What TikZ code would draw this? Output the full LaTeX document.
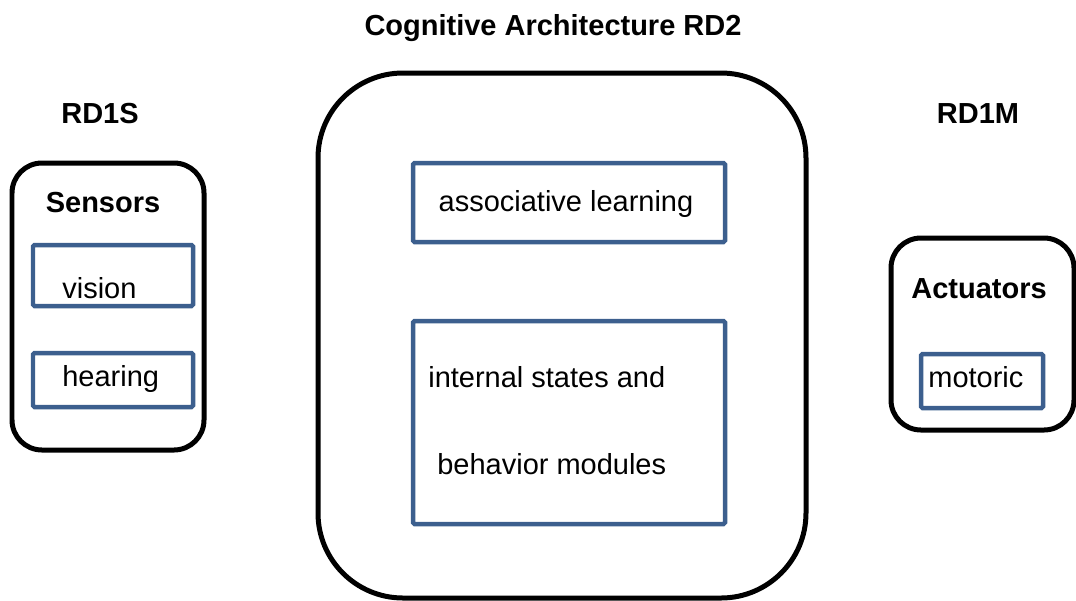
\documentclass[tikz,border=0pt]{standalone}
\usepackage{fontspec}
\setmainfont{Liberation Sans}
\usepackage{tikz}
\usetikzlibrary{positioning}

\definecolor{boxblue}{HTML}{3C5F8E}

\tikzset{
  outerbox/.style={draw=black, line width=0.1cm},
  innerbox/.style={draw=boxblue, line width=0.09cm, rounded corners=0.03cm},
  heading/.style={inner sep=0, font=\fontsize{16.5}{19}\selectfont\bfseries},
  label/.style={inner sep=0, font=\fontsize{16.5}{19}\selectfont}
}

\begin{document}
\begin{tikzpicture}[x=0.02cm, y=-0.02cm]
        \useasboundingbox (0,0) rectangle (1076,600);

        \draw[outerbox, rounded corners=0.6cm] (12,163)  rectangle (204,450);   %sensors
        \draw[outerbox, rounded corners=1.7cm] (318,73)  rectangle (806,598);   %architecture
        \draw[outerbox, rounded corners=0.6cm] (891,238) rectangle (1074,430);  %actuators

        \draw[innerbox] (33,245)  rectangle (193,306);   %vision
        \draw[innerbox] (33,353)  rectangle (193,407);   %hearing
        \draw[innerbox] (413,163) rectangle (725,242);   %associative
        \draw[innerbox] (413,321) rectangle (725,524);   %internal
        \draw[innerbox] (921,354) rectangle (1043,408);  %motoric

        \node[heading, anchor=base] at (553,35)  (title)    {Cognitive Architecture RD2};
        \node[heading, anchor=base] at (100,123) (rdones)   {RD1S};
        \node[heading, anchor=base] at (978,123) (rdonem)   {RD1M};
        \node[heading, anchor=base] at (103,212) (sensors)  {Sensors};
        \node[heading, anchor=base] at (979,298) (actuators){Actuators};

        \node[label, anchor=base west] at (62,298)  (vision)   {vision};
        \node[label, anchor=base west] at (62,386)  (hearing)  {hearing};
        \node[label, anchor=base]      at (566,211) (assoc)    {associative learning};
        \node[label, anchor=base west] at (428,387) (internal) {internal states and};
        \node[label, anchor=base west] at (437,474) (behavior) {behavior modules};
        \node[label, anchor=base west] at (928,387) (motoric)  {motoric};
\end{tikzpicture}
\end{document}
